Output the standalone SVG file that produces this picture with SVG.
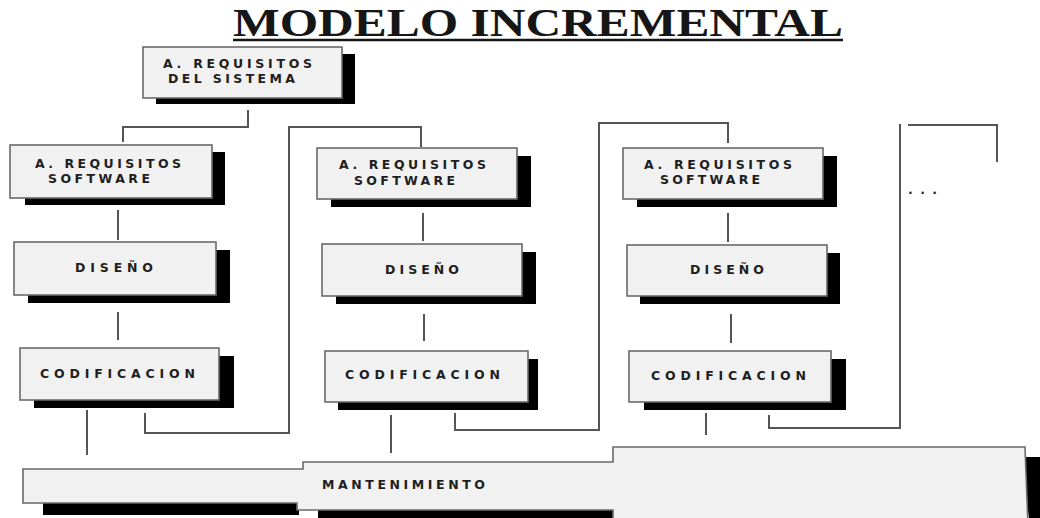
<svg xmlns="http://www.w3.org/2000/svg" width="1040" height="518" viewBox="0 0 1040 518">
<style>
.box{fill:#f1f1f1;stroke:#6a6a6a;stroke-width:1.6}
.sh{fill:#000}
.t{font-family:"DejaVu Sans","Liberation Sans",sans-serif;font-weight:bold;font-size:12.5px;fill:#1e1e1e}
.c{fill:none;stroke:#555;stroke-width:2}
.title{font-family:"Liberation Serif",serif;font-weight:bold;font-size:40px;fill:#161616}
</style>
<rect width="1040" height="518" fill="#fff"/>
<g id="title">
<text class="title" x="233" y="36" textLength="610" lengthAdjust="spacingAndGlyphs">MODELO INCREMENTAL</text>
<line x1="233" y1="40" x2="843" y2="40" stroke="#161616" stroke-width="2.5"/>
</g>
<g id="connectors">
<polyline class="c" points="248,110 248,127 123,127 123,142"/>
<line class="c" x1="118" y1="210" x2="118" y2="240"/>
<line class="c" x1="118" y1="312" x2="118" y2="340"/>
<line class="c" x1="87" y1="410" x2="87" y2="455"/>
<polyline class="c" points="145,413 145,433 289,433 289,127 421,127 421,147"/>
<line class="c" x1="423" y1="213" x2="423" y2="241"/>
<line class="c" x1="424" y1="314" x2="424" y2="341"/>
<line class="c" x1="391" y1="415" x2="391" y2="453"/>
<polyline class="c" points="455,413 455,430 599,430 599,123 728,123 728,143"/>
<line class="c" x1="728" y1="213" x2="728" y2="242"/>
<line class="c" x1="731" y1="314" x2="731" y2="343"/>
<line class="c" x1="706" y1="413" x2="706" y2="435"/>
<polyline class="c" points="769,415 769,428 900,428 900,124"/>
<polyline class="c" points="908,125 997,125 997,162"/>
</g>
<g id="req-sistema">
<rect class="sh" x="156" y="54" width="199" height="50"/>
<rect class="box" x="143" y="47" width="199" height="51"/>
<text class="t" x="163" y="68" textLength="149" lengthAdjust="spacing">A. REQUISITOS</text>
<text class="t" x="168" y="83" textLength="127" lengthAdjust="spacing">DEL SISTEMA</text>
</g>
<g id="req-software-1">
<rect class="sh" x="25" y="152" width="200" height="53"/>
<rect class="box" x="10" y="145" width="202" height="53"/>
<text class="t" x="35" y="168" textLength="146" lengthAdjust="spacing">A. REQUISITOS</text>
<text class="t" x="48" y="183" textLength="102" lengthAdjust="spacing">SOFTWARE</text>
</g>
<g id="diseno-1">
<rect class="sh" x="28" y="250" width="202" height="53"/>
<rect class="box" x="14" y="242" width="202" height="53"/>
<text class="t" x="75" y="272" textLength="78" lengthAdjust="spacing">DISEÑO</text>
</g>
<g id="codificacion-1">
<rect class="sh" x="34" y="356" width="200" height="52"/>
<rect class="box" x="20" y="348" width="199" height="52"/>
<text class="t" x="40" y="378" textLength="155" lengthAdjust="spacing">CODIFICACION</text>
</g>
<g id="req-software-2">
<rect class="sh" x="331" y="156" width="200" height="51"/>
<rect class="box" x="317" y="148" width="200" height="51"/>
<text class="t" x="339" y="169" textLength="147" lengthAdjust="spacing">A. REQUISITOS</text>
<text class="t" x="354" y="185" textLength="101" lengthAdjust="spacing">SOFTWARE</text>
</g>
<g id="diseno-2">
<rect class="sh" x="336" y="252" width="200" height="52"/>
<rect class="box" x="322" y="244" width="200" height="52"/>
<text class="t" x="385" y="274" textLength="74" lengthAdjust="spacing">DISEÑO</text>
</g>
<g id="codificacion-2">
<rect class="sh" x="338" y="359" width="200" height="51"/>
<rect class="box" x="325" y="351" width="203" height="51"/>
<text class="t" x="345" y="379" textLength="155" lengthAdjust="spacing">CODIFICACION</text>
</g>
<g id="req-software-3">
<rect class="sh" x="637" y="156" width="200" height="51"/>
<rect class="box" x="623" y="148" width="200" height="51"/>
<text class="t" x="644" y="169" textLength="148" lengthAdjust="spacing">A. REQUISITOS</text>
<text class="t" x="660" y="184" textLength="100" lengthAdjust="spacing">SOFTWARE</text>
</g>
<g id="diseno-3">
<rect class="sh" x="640" y="253" width="200" height="51"/>
<rect class="box" x="627" y="245" width="200" height="51"/>
<text class="t" x="690" y="274" textLength="74" lengthAdjust="spacing">DISEÑO</text>
</g>
<g id="codificacion-3">
<rect class="sh" x="644" y="359" width="202" height="51"/>
<rect class="box" x="629" y="351" width="202" height="51"/>
<text class="t" x="651" y="380" textLength="155" lengthAdjust="spacing">CODIFICACION</text>
</g>
<g id="mas">
<text class="t" x="908" y="194" textLength="29" lengthAdjust="spacing">...</text>
</g>
<g id="mantenimiento">
<rect class="sh" x="43" y="490" width="256" height="25"/>
<rect class="sh" x="318" y="495" width="297" height="30"/>
<polygon class="sh" points="1020,457 1040,457 1040,518 1029,518"/>
<polygon class="box" points="23,469 303,469 303,462 613,462 613,447 1025,447 1028,525 613,525 613,510 297,510 297,503 23,503"/>
<text class="t" x="322" y="489" textLength="163" lengthAdjust="spacing">MANTENIMIENTO</text>
</g>
</svg>
